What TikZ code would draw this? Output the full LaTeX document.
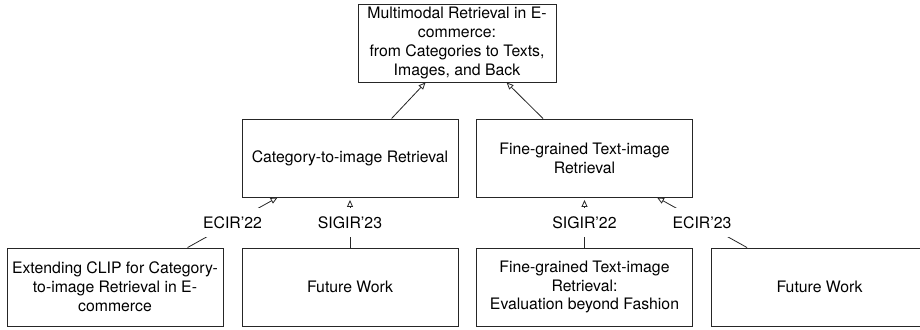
\documentclass[tikz,border=0pt]{standalone}
\usepackage{fontspec}
\setmainfont{TeX Gyre Heros}
\usetikzlibrary{arrows.meta,calc}
\tikzset{
  box/.style={draw=black!85, line width=0.9pt, rectangle, minimum width=216pt, minimum height=78pt, inner sep=2pt, align=center, font=\fontsize{15.8}{18.8}\selectfont},
  conn/.style={draw=black!85, line width=0.8pt, -{Triangle[open,length=7pt,width=6pt]}},
  lab/.style={fill=white, inner xsep=1pt, inner ysep=0pt, minimum height=29pt, font=\fontsize{15.8}{18.8}\selectfont}
}
\begin{document}
\begin{tikzpicture}[x=1pt,y=-1pt]
\useasboundingbox (0,0) rectangle (920,329);
\node[box, minimum width=198pt] (top) at (457,43) {Multimodal Retrieval in E-\\commerce:\\from Categories to Texts,\\Images, and Back};
\node[box] (midL) at (350,158) {Category-to-image Retrieval};
\node[box] (midR) at (584.5,158) {Fine-grained Text-image\\Retrieval};
\node[box] (botA) at (115,287) {Extending CLIP for Category-\\to-image Retrieval in E-\\commerce};
\node[box] (botB) at (350,287) {Future Work};
\node[box] (botC) at (584.5,287) {Fine-grained Text-image\\Retrieval:\\Evaluation beyond Fashion};
\node[box] (botD) at (819.5,287) {Future Work};
% top arrows
\draw[conn] ($(midL.north west)+(150,0)$) -- ($(top.south west)+(68,0)$);
\draw[conn] ($(midR.north west)+(67,0)$) -- ($(top.south west)+(149,0)$);
% labelled edges
\draw[conn] ($(botA.north west)+(181,0)$) -- node[lab] (l1) {ECIR'22} ($(midL.south west)+(36,0)$);
\draw[conn, shorten >=2.5pt] (botB.north) -- node[lab] (l2) {SIGIR'23} (midL.south);
\draw[conn, shorten >=2.5pt] (botC.north) -- node[lab] (l3) {SIGIR'22} (midR.south);
\draw[conn] ($(botD.north west)+(36,0)$) -- node[lab] (l4) {ECIR'23} ($(midR.south west)+(181,0)$);
\end{tikzpicture}
\end{document}
